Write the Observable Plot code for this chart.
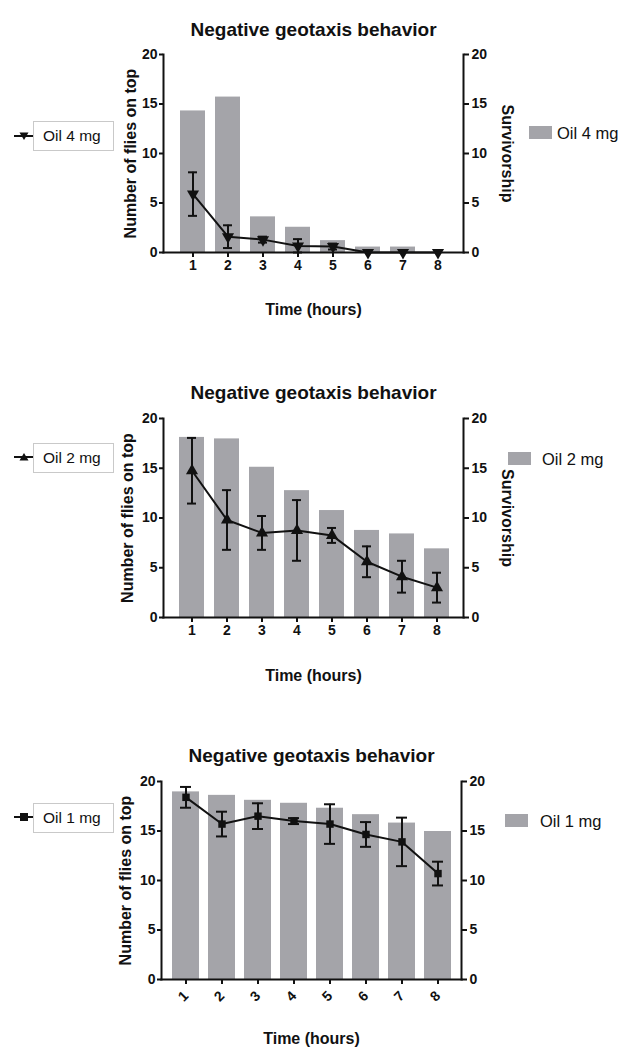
<!DOCTYPE html>
<html>
<head>
<meta charset="utf-8">
<script src="https://cdn.jsdelivr.net/npm/d3@7"></script>
<script src="https://cdn.jsdelivr.net/npm/@observablehq/plot@0.6"></script>
<style>
  body { margin: 0; background: #fff; font-family: "Liberation Sans", Arial, sans-serif; }
  #root { position: relative; width: 622px; height: 1052px; overflow: hidden; }
  .panel { position: absolute; left: 0; }
  .panel svg { overflow: visible; }
  .lbox { position: absolute; left: 33px; width: 70px; height: 28px; border: 1px solid #c9c9c9; background: #fff;
          font-size: 15.5px; line-height: 28px; padding-left: 9px; box-sizing: content-box; color: #111; white-space: nowrap; }
  .lmark { position: absolute; left: 12px; }
  .rsw { position: absolute; width: 23px; height: 13px; }
  .rtxt { position: absolute; font-size: 16.5px; color: #111; white-space: nowrap; line-height: 16px; }
</style>
</head>
<body>
<div id="root"></div>
<script>
// ---------- data ----------
const hours = [1, 2, 3, 4, 5, 6, 7, 8];
const yTicks = [0, 5, 10, 15, 20];
const titleText = "Negative geotaxis behavior";
const xTitle = "Time (hours)";
const yTitleLeft = "Number of flies on top";
const yTitleRight = "Survivorship";

const seriesNames = ["Oil 4 mg", "Oil 2 mg", "Oil 1 mg"];

// Survivorship (bars)
const oil4Bars = [14.3, 15.7, 3.6, 2.55, 1.2, 0.55, 0.55, 0];
const oil2Bars = [18.1, 17.95, 15.1, 12.75, 10.75, 8.75, 8.4, 6.9];
const oil1Bars = [18.95, 18.6, 18.1, 17.8, 17.3, 16.65, 15.8, 14.95];

// Number of flies on top (line, mean ± error)
const oil4Mean = [5.9, 1.6, 1.3, 0.65, 0.6, 0, 0, 0];
const oil4Err  = [2.2, 1.15, 0.3, 0.7, 0.3, 0, 0, 0];
const oil2Mean = [14.75, 9.8, 8.5, 8.75, 8.25, 5.6, 4.1, 3.0];
const oil2Err  = [3.3, 3.0, 1.7, 3.05, 0.75, 1.55, 1.6, 1.5];
const oil1Mean = [18.4, 15.7, 16.5, 16.0, 15.7, 14.65, 13.9, 10.7];
const oil1Err  = [1.05, 1.25, 1.3, 0.3, 2.0, 1.25, 2.45, 1.2];

// ---------- styling ----------
const barColor = "#a4a4a9";
const ink = "#111";
const font = "'Liberation Sans', Arial, Helvetica, sans-serif";

function makePanel(cfg) {
  const rows = hours.map((h, i) => ({
    h, bar: cfg.bars[i], mean: cfg.mean[i], err: cfg.err[i],
    lo: Math.max(0, cfg.mean[i] - cfg.err[i]), hi: cfg.mean[i] + cfg.err[i]
  }));
  const errRows = rows.filter(d => d.err > 0);
  const marks = [
    Plot.barY(rows, {x: "h", y: "bar", fill: barColor}),
    Plot.ruleX(errRows, {x: "h", y1: "lo", y2: "hi", stroke: ink, strokeWidth: 2}),
    Plot.tickY(errRows, {x: "h", y: "hi", stroke: ink, strokeWidth: 2, insetLeft: 8, insetRight: 8}),
    Plot.tickY(errRows, {x: "h", y: "lo", stroke: ink, strokeWidth: 2, insetLeft: 8, insetRight: 8}),
    Plot.line(rows, {x: "h", y: "mean", stroke: ink, strokeWidth: 2}),
    Plot.dot(rows, {x: "h", y: "mean", symbol: cfg.symbol, r: cfg.r, fill: ink, stroke: "none", rotate: cfg.rotate}),
    Plot.frame({anchor: "left", stroke: ink, strokeWidth: 2}),
    Plot.frame({anchor: "right", stroke: ink, strokeWidth: 2}),
    Plot.frame({anchor: "bottom", stroke: ink, strokeWidth: 2}),
    Plot.axisY({anchor: "left", ticks: yTicks, tickSize: 4, tickPadding: 2, label: null, stroke: ink, strokeWidth: 2, fontSize: 14, fontWeight: "bold"}),
    Plot.axisY({anchor: "right", ticks: yTicks, tickSize: 5, tickPadding: 3, label: null, stroke: ink, strokeWidth: 2, fontSize: 14, fontWeight: "bold"}),
    Plot.axisX(cfg.rotTicks
      ? {anchor: "bottom", tickSize: 5, tickPadding: 9, tickRotate: -45, label: null, stroke: ink, strokeWidth: 2, fontSize: 14, fontWeight: "bold"}
      : {anchor: "bottom", tickSize: 5, tickPadding: 3, label: null, stroke: ink, strokeWidth: 2, fontSize: 14, fontWeight: "bold"}),
    Plot.text([titleText], {frameAnchor: "top", dy: cfg.titleDy, fontSize: 19, fontWeight: "bold", fill: ink}),
    Plot.text([xTitle], {frameAnchor: "bottom", dy: cfg.xlabDy, fontSize: 16, fontWeight: "bold", fill: ink}),
    Plot.text([yTitleLeft], {frameAnchor: "left", textAnchor: "middle", dx: cfg.leftDx, rotate: -90, fontSize: 16, fontWeight: "bold", fill: ink})
  ];
  if (cfg.survivorship) {
    marks.push(Plot.text([yTitleRight], {frameAnchor: "right", textAnchor: "middle", dx: 44, rotate: 90, fontSize: 16, fontWeight: "bold", fill: ink}));
  }
  return Plot.plot({
    width: 622,
    height: cfg.height,
    marginTop: cfg.mt, marginBottom: cfg.mb, marginLeft: cfg.ml, marginRight: cfg.mr,
    style: {fontFamily: font, fontSize: "14px", color: ink, background: "transparent", overflow: "visible"},
    x: {type: "band", domain: hours, paddingInner: cfg.pi, paddingOuter: cfg.po, align: cfg.align},
    y: {domain: [0, 20]},
    marks
  });
}

const panels = [
  {top: 0, height: 340, mt: 54, mb: 88, ml: 163, mr: 159, pi: 0.272, po: 0.336, align: 0.58,
   bars: oil4Bars, mean: oil4Mean, err: oil4Err, symbol: "triangle", r: 4.5, rotate: 180,
   titleDy: -32, xlabDy: 62, leftDx: -33, survivorship: true, rotTicks: false,
   name: seriesNames[0], boxTop: 121, markY: 136, swL: 529, swT: 126, txL: 557},
  {top: 340, height: 365, mt: 78, mb: 88, ml: 163, mr: 159, pi: 0.275, po: 0.31, align: 0.55,
   bars: oil2Bars, mean: oil2Mean, err: oil2Err, symbol: "triangle", r: 4.5, rotate: 0,
   titleDy: -33, xlabDy: 63, leftDx: -36, survivorship: true, rotTicks: false,
   name: seriesNames[1], boxTop: 443, markY: 457, swL: 508, swT: 452, txL: 542},
  {top: 705, height: 347, mt: 76, mb: 73, ml: 161, mr: 161, pi: 0.262, po: 0.293, align: 0.5,
   bars: oil1Bars, mean: oil1Mean, err: oil1Err, symbol: "square", r: 4.2, rotate: 0,
   titleDy: -33, xlabDy: 64, leftDx: -36, survivorship: false, rotTicks: true,
   name: seriesNames[2], boxTop: 803, markY: 817, swL: 505, swT: 814, txL: 540}
];

const root = document.getElementById("root");
panels.forEach((p, idx) => {
  const div = document.createElement("div");
  div.className = "panel";
  div.style.top = p.top + "px";
  div.appendChild(makePanel(p));
  root.appendChild(div);

  // left legend (line + marker, boxed label)
  const box = document.createElement("div");
  box.className = "lbox";
  box.style.top = p.boxTop + "px";
  box.textContent = p.name;
  root.appendChild(box);

  const ns = "http://www.w3.org/2000/svg";
  const s = document.createElementNS(ns, "svg");
  s.setAttribute("width", 22); s.setAttribute("height", 14);
  s.setAttribute("class", "lmark");
  s.style.top = (p.markY - 7) + "px";
  const ln = document.createElementNS(ns, "line");
  ln.setAttribute("x1", 2); ln.setAttribute("x2", 21); ln.setAttribute("y1", 7); ln.setAttribute("y2", 7);
  ln.setAttribute("stroke", ink); ln.setAttribute("stroke-width", 2);
  s.appendChild(ln);
  const mk = document.createElementNS(ns, "path");
  let d;
  if (idx === 0) d = "M7.5,3.5 L16.5,3.5 L12,11 Z";
  else if (idx === 1) d = "M7.5,10.5 L16.5,10.5 L12,3 Z";
  else d = "M8,3 L16,3 L16,11 L8,11 Z";
  mk.setAttribute("d", d); mk.setAttribute("fill", ink);
  s.appendChild(mk);
  root.appendChild(s);

  // right legend (bar swatch + label)
  const sw = document.createElement("div");
  sw.className = "rsw";
  sw.style.left = p.swL + "px"; sw.style.top = p.swT + "px"; sw.style.background = barColor;
  root.appendChild(sw);
  const tx = document.createElement("div");
  tx.className = "rtxt";
  tx.style.left = p.txL + "px"; tx.style.top = (p.swT - 1) + "px";
  tx.textContent = p.name;
  root.appendChild(tx);
});
</script>
</body>
</html>
